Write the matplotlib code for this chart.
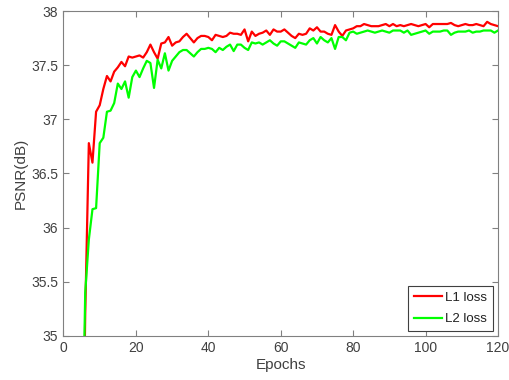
import numpy as np
import matplotlib
matplotlib.use("Agg")
import matplotlib.pyplot as plt

plt.rcParams['font.family'] = ['Liberation Sans', 'DejaVu Sans']

epochs = np.arange(5, 121)

l1_loss = [
    32.8, 35.2, 36.78, 36.60, 37.07, 37.13, 37.28, 37.40, 37.35, 37.44,   # 5-14
    37.48, 37.53, 37.49, 37.58, 37.57, 37.58, 37.59, 37.57, 37.62, 37.69,  # 15-24
    37.62, 37.56, 37.70, 37.71, 37.76, 37.68, 37.71, 37.72, 37.76, 37.79,  # 25-34
    37.75, 37.71, 37.75, 37.77, 37.77, 37.76, 37.73, 37.78, 37.77, 37.76,  # 35-44
    37.77, 37.80, 37.79, 37.79, 37.78, 37.83, 37.72, 37.81, 37.77, 37.79,  # 45-54
    37.80, 37.82, 37.78, 37.83, 37.81, 37.81, 37.83, 37.80, 37.77, 37.75,  # 55-64
    37.79, 37.78, 37.79, 37.84, 37.82, 37.85, 37.81, 37.81, 37.79, 37.78,  # 65-74
    37.87, 37.81, 37.77, 37.82, 37.83, 37.84, 37.86, 37.86, 37.88, 37.87,  # 75-84
    37.86, 37.86, 37.86, 37.87, 37.88, 37.86, 37.88, 37.86, 37.87, 37.86,  # 85-94
    37.87, 37.88, 37.87, 37.86, 37.87, 37.88, 37.85, 37.88, 37.88, 37.88,  # 95-104
    37.88, 37.88, 37.89, 37.87, 37.86, 37.87, 37.88, 37.87, 37.87, 37.88,  # 105-114
    37.87, 37.86, 37.90, 37.88, 37.87, 37.86,                              # 115-120
]

l2_loss = [
    33.5, 35.4, 35.89, 36.17, 36.18, 36.78, 36.83, 37.07, 37.08, 37.15,   # 5-14
    37.33, 37.28, 37.35, 37.20, 37.39, 37.45, 37.39, 37.47, 37.54, 37.52,  # 15-24
    37.29, 37.55, 37.47, 37.61, 37.45, 37.54, 37.58, 37.62, 37.64, 37.64,  # 25-34
    37.61, 37.58, 37.62, 37.65, 37.65, 37.66, 37.65, 37.62, 37.66, 37.64,  # 35-44
    37.67, 37.69, 37.63, 37.69, 37.69, 37.66, 37.64, 37.71, 37.70, 37.71,  # 45-54
    37.69, 37.71, 37.73, 37.70, 37.68, 37.72, 37.72, 37.70, 37.68, 37.66,  # 55-64
    37.71, 37.70, 37.69, 37.73, 37.75, 37.70, 37.76, 37.73, 37.71, 37.75,  # 65-74
    37.65, 37.76, 37.76, 37.73, 37.80, 37.81, 37.79, 37.80, 37.81, 37.82,  # 75-84
    37.81, 37.80, 37.81, 37.82, 37.81, 37.80, 37.82, 37.82, 37.82, 37.80,  # 85-94
    37.82, 37.78, 37.79, 37.80, 37.81, 37.82, 37.79, 37.81, 37.81, 37.81,  # 95-104
    37.82, 37.82, 37.78, 37.80, 37.81, 37.81, 37.81, 37.82, 37.80, 37.81,  # 105-114
    37.81, 37.82, 37.82, 37.82, 37.80, 37.82,                              # 115-120
]

x_ticks = [0, 20, 40, 60, 80, 100, 120]
y_ticks = [35, 35.5, 36, 36.5, 37, 37.5, 38]
y_tick_labels = ['35', '35.5', '36', '36.5', '37', '37.5', '38']

fig = plt.figure(figsize=(5.1, 3.8), dpi=100)
ax = fig.add_axes([0.1245, 0.116, 0.852, 0.855])

ax.plot(epochs, l1_loss, color='#ff0000', lw=1.6, label='L1 loss')
ax.plot(epochs, l2_loss, color='#00ff00', lw=1.6, label='L2 loss')

ax.set_xlim(0, 120)
ax.set_ylim(35, 38)
ax.set_xticks(x_ticks)
ax.set_yticks(y_ticks)
ax.set_yticklabels(y_tick_labels)

axis_col = '#808080'
text_col = '#404040'
for s in ax.spines.values():
    s.set_color(axis_col)
    s.set_linewidth(0.8)
ax.tick_params(direction='in', top=True, right=True, length=4, width=0.8,
               colors=axis_col, labelcolor=text_col, labelsize=10, pad=4)

ax.set_xlabel('Epochs', fontsize=11, color=text_col, labelpad=2)
ax.set_ylabel('PSNR(dB)', fontsize=11, color=text_col, labelpad=2)

leg = ax.legend(loc='lower right', fontsize=9.5, frameon=True, fancybox=False,
                edgecolor='#404040', framealpha=1, handlelength=2.1,
                borderaxespad=0.35, labelspacing=0.7, handletextpad=0.3,
                borderpad=0.45)
leg.get_frame().set_linewidth(0.8)
for t in leg.get_texts():
    t.set_color('#202020')

fig.savefig('out.png', dpi=100)
